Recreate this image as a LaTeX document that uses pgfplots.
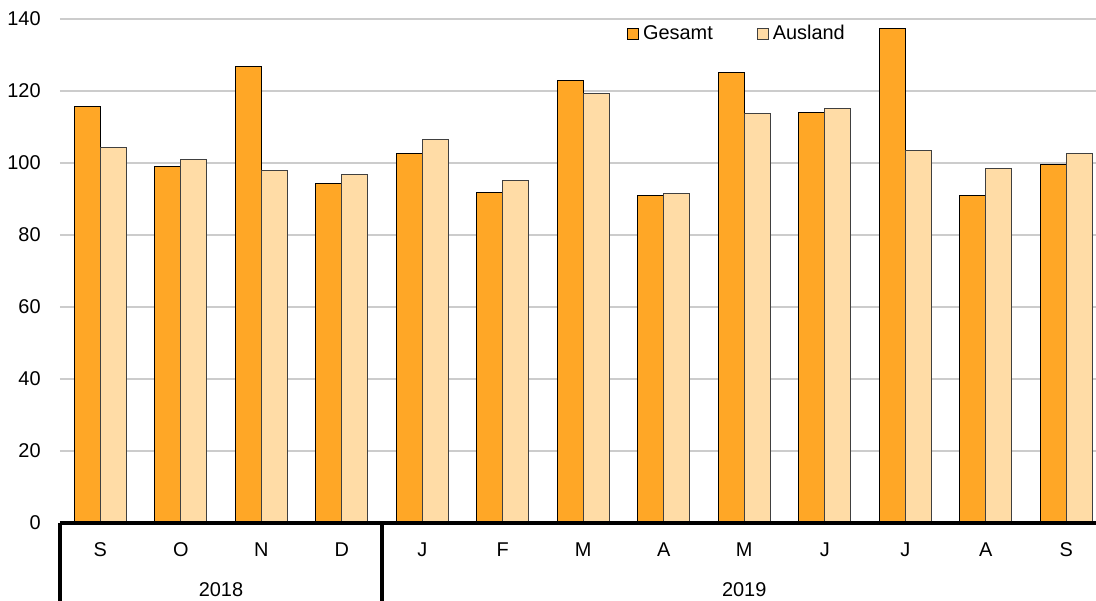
\documentclass[border=0pt]{standalone}
\usepackage{pgfplots}
\pgfplotsset{compat=1.18}
\usepackage{fontspec}
\setmainfont{Liberation Sans}
\definecolor{gesamt}{HTML}{FFA726}
\definecolor{ausland}{HTML}{FFDCA6}
\definecolor{gridgray}{HTML}{CCCCCC}
\begin{document}
\begin{tikzpicture}
\path[use as bounding box] (-30bp,-39bp) rectangle (518bp,261.5bp);
\begin{axis}[
    scale only axis,
    width=523.25bp, height=252bp,
    xmin=-0.5, xmax=12.5,
    ymin=0, ymax=140,
    ytick={0,20,...,140},
    xtick=data,
    xticklabels={S,O,N,D,J,F,M,A,M,J,J,A,S},
    major tick length=0pt,
    axis line style={draw=none},
    ymajorgrids=true,
    grid style={gridgray, line width=1bp},
    ybar=0pt, bar width=13bp,
    font=\fontsize{10}{12}\selectfont,
    /pgf/number format/assume math mode=true,
    yticklabel style={inner sep=0pt, xshift=-9.5bp, font=\fontsize{10}{12}\selectfont},
    xticklabel style={anchor=base, inner sep=0pt, yshift=-16.5bp, font=\fontsize{10}{12}\selectfont},
    clip=false,
    legend columns=2,
    legend style={draw=none, fill=none, at={(rel axis cs:0.5415,0.970)}, anchor=west,
        font=\fontsize{10}{12}\selectfont,
        /tikz/every even column/.append style={column sep=20bp},
        inner sep=0pt},
    legend image code/.code={\draw[#1] (0bp,-2.75bp) rectangle (5.5bp,2.75bp);},
]
\addplot[fill=gesamt, draw=black, line width=0.5bp] coordinates {
    (0,115.6) (1,98.9) (2,126.9) (3,94.2) (4,102.5) (5,91.7) (6,122.8)
    (7,90.9) (8,125.2) (9,113.9) (10,137.4) (11,91.0) (12,99.6)};
\addplot[fill=ausland, draw=black!75, line width=0.5bp] coordinates {
    (0,104.2) (1,101.1) (2,97.8) (3,96.7) (4,106.4) (5,95.0) (6,119.4)
    (7,91.4) (8,113.8) (9,115.2) (10,103.4) (11,98.6) (12,102.6)};
\legend{Gesamt,Ausland}
\draw[line width=2bp] (axis cs:-0.5,0) -- (axis cs:12.5,0);
\draw[line width=2bp] (axis cs:-0.5,0) -- ++(0bp,-40bp);
\draw[line width=2bp] (axis cs:3.5,0) -- ++(0bp,-40bp);
\node[anchor=base, inner sep=0pt, yshift=-36.5bp] at (axis cs:1.5,0) {2018};
\node[anchor=base, inner sep=0pt, yshift=-36.5bp] at (axis cs:8,0) {2019};
\end{axis}
\end{tikzpicture}
\end{document}
